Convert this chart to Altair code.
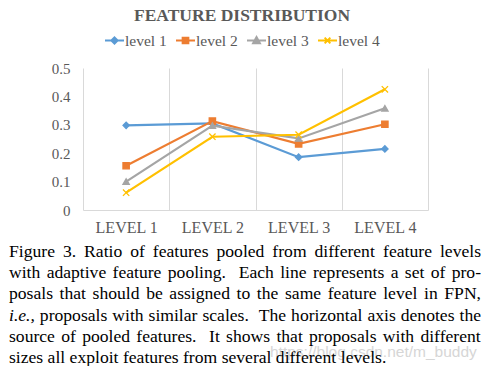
import altair as alt
import pandas as pd

# ---------------- data ----------------
categories = ["LEVEL 1", "LEVEL 2", "LEVEL 3", "LEVEL 4"]
series = ["level 1", "level 2", "level 3", "level 4"]
level_1 = [0.298, 0.305, 0.186, 0.215]
level_2 = [0.156, 0.313, 0.233, 0.302]
level_3 = [0.100, 0.297, 0.252, 0.358]
level_4 = [0.061, 0.258, 0.265, 0.425]
colors = ["#5B9BD5", "#ED7D31", "#A5A5A5", "#FFC000"]
y_ticks = [0, 0.1, 0.2, 0.3, 0.4, 0.5]

title_text = "FEATURE DISTRIBUTION"
caption_lines = [
    "Figure 3. Ratio of features pooled from different feature levels",
    "with adaptive feature pooling. Each line represents a set of pro-",
    "posals that should be assigned to the same feature level in FPN,",
    "i.e., proposals with similar scales. The horizontal axis denotes the",
    "source of pooled features. It shows that proposals with different",
    "sizes all exploit features from several different levels.",
]
italic_words = ["i.e.,"]
watermark_text = "https://blog.csdn.net/m_buddy"

rows = []
for s, vals in zip(series, [level_1, level_2, level_3, level_4]):
    for c, v in zip(categories, vals):
        rows.append({"series": s, "level": c, "ratio": v})
df = pd.DataFrame(rows)

# ---------------- layout ----------------
PW, PH = 345, 142
FONT = "Liberation Serif"
GREY = "#595959"

# justified caption layout (Times metrics, per 1000 em)
tw = dict(zip("abcdefghijklmnopqrstuvwxyz",
              [444, 500, 444, 500, 444, 333, 500, 500, 278, 278, 500, 278, 778,
               500, 500, 500, 500, 333, 389, 278, 500, 500, 722, 500, 500, 444]))
tw.update(dict(zip("ABCDEFGHIJKLMNOPQRSTUVWXYZ",
                   [722, 667, 667, 722, 611, 556, 722, 722, 333, 389, 722, 611, 889,
                    722, 722, 556, 722, 667, 556, 611, 722, 722, 944, 722, 722, 611])))
tw.update({d: 500 for d in "0123456789"})
tw.update({".": 250, ",": 250, "-": 333, " ": 250})

CAP_FS = 17.6
CAP_LEFT, CAP_RIGHT = -74, 398
CAP_Y0, CAP_DY = 188.7, 21.3


def wwidth(w):
    return sum(tw.get(ch, 500) for ch in w) * CAP_FS / 1000.0


cap_rows = []
for li, line in enumerate(caption_lines):
    words = line.split(" ")
    widths = [wwidth(w) for w in words]
    weights = [2.0 if (w.endswith(".") and not w[:-1].isdigit()) else 1.0 for w in words[:-1]]
    if li < len(caption_lines) - 1:
        unit = (CAP_RIGHT - CAP_LEFT - sum(widths)) / sum(weights)
    else:
        unit = 0.25 * CAP_FS
        weights = [1.0] * len(weights)
    x = CAP_LEFT
    for i, w in enumerate(words):
        cap_rows.append({"word": w, "x": x, "y": CAP_Y0 + li * CAP_DY,
                         "italic": w in italic_words})
        if i < len(weights):
            x += widths[i] + unit * weights[i]
cap_df = pd.DataFrame(cap_rows)

# ---------------- encodings ----------------
x_enc = alt.X(
    "level:N", sort=categories, bandPosition=0.5,
    scale=alt.Scale(type="band", paddingInner=0, paddingOuter=0),
    axis=alt.Axis(title=None, tickBand="extent", grid=True, gridColor="#D9D9D9",
                  gridWidth=1, ticks=False, domainColor="#D9D9D9", domainWidth=1,
                  labelFont=FONT, labelFontSize=16, labelColor=GREY,
                  labelPadding=9, labelAngle=0),
)
y_enc = alt.Y(
    "ratio:Q", scale=alt.Scale(domain=[0, 0.5]),
    axis=alt.Axis(title=None, values=y_ticks, format=".1~f", grid=False,
                  domain=False, ticks=False, labelFont=FONT, labelFontSize=15,
                  labelColor=GREY, labelPadding=13),
)
cscale = alt.Scale(domain=series, range=colors)

lines = alt.Chart(df).mark_line(strokeWidth=2.2).encode(
    x=x_enc, y=y_enc,
    color=alt.Color("series:N", scale=cscale, legend=None),
)

marker_shapes = ["diamond", "square", "triangle-up", "M-1,-1L1,1M-1,1L1,-1"]
points = alt.Chart(df).mark_point(filled=True, opacity=1, size=40, strokeWidth=1.3).encode(
    x=x_enc, y=y_enc,
    color=alt.Color("series:N", scale=cscale, legend=None),
    stroke=alt.Stroke("series:N", scale=cscale, legend=None),
    shape=alt.Shape("series:N", scale=alt.Scale(domain=series, range=marker_shapes), legend=None),
)

legend_paths = [
    "M-1,0H1M0,-0.33L0.33,0L0,0.33L-0.33,0Z",
    "M-1,0H1M-0.3,-0.3H0.3V0.3H-0.3Z",
    "M-1,0H1M0,-0.36L0.36,0.3H-0.36Z",
    "M-1,0H1M-0.3,-0.3L0.3,0.3M-0.3,0.3L0.3,-0.3",
]
leg = alt.Legend(orient="none", legendX=21, legendY=-38, direction="horizontal",
                 title=None, labelFont=FONT, labelFontSize=15.5, labelColor=GREY,
                 symbolSize=361, symbolStrokeWidth=2, symbolOpacity=1,
                 labelOffset=0, columnPadding=5, padding=0)
legend_layer = alt.Chart(df).transform_filter("false").mark_point(
    filled=True, opacity=1, strokeWidth=2).encode(
    x=x_enc, y=y_enc,
    color=alt.Color("series:N", scale=cscale, legend=leg),
    stroke=alt.Stroke("series:N", scale=cscale, legend=leg),
    shape=alt.Shape("series:N", scale=alt.Scale(domain=series, range=legend_paths), legend=leg),
)

title = alt.Chart(pd.DataFrame({"t": [title_text]})).mark_text(
    font=FONT, fontSize=17.5, fontWeight="bold", color=GREY,
    align="center", baseline="alphabetic").encode(
    text="t:N", x=alt.value(159), y=alt.value(-47))

watermark = alt.Chart(pd.DataFrame({"t": [watermark_text]})).mark_text(
    font="Liberation Sans", fontSize=15.5, color="#D6D6D6",
    align="left", baseline="middle").encode(
    text="t:N", x=alt.value(187), y=alt.value(284))

cap_normal = alt.Chart(cap_df).transform_filter("!datum.italic").mark_text(
    font=FONT, fontSize=CAP_FS, color="black", align="left", baseline="alphabetic").encode(
    x=alt.X("x:Q", scale=None, axis=None),
    y=alt.Y("y:Q", scale=None, axis=None),
    text="word:N")
cap_italic = alt.Chart(cap_df).transform_filter("datum.italic").mark_text(
    font=FONT, fontSize=CAP_FS, fontStyle="italic", color="black",
    align="left", baseline="alphabetic").encode(
    x=alt.X("x:Q", scale=None, axis=None),
    y=alt.Y("y:Q", scale=None, axis=None),
    text="word:N")

chart = alt.layer(
    lines, points, legend_layer, title, watermark, cap_normal, cap_italic
).resolve_scale(
    color="independent", stroke="independent", shape="independent"
).properties(
    width=PW, height=PH, autosize="none",
    padding={"left": 75, "top": 60, "right": 53, "bottom": 156},
).configure_view(stroke=None)

chart.save("out.html", embed_options={"renderer": "svg", "actions": False})
